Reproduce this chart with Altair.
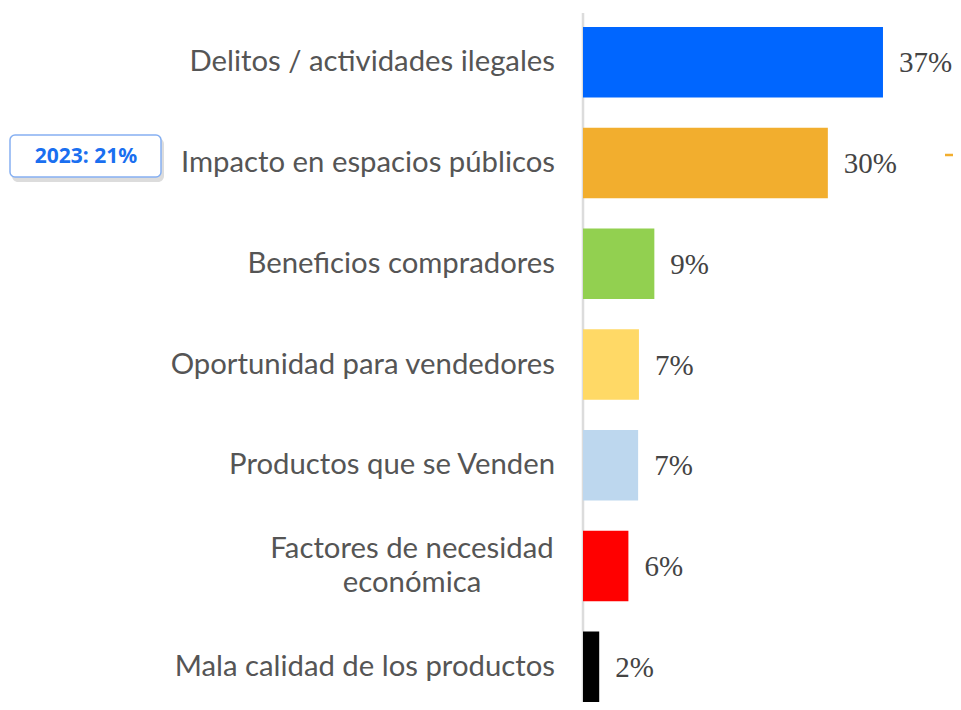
import altair as alt
import pandas as pd

categories = [
    "Delitos / actividades ilegales",
    "Impacto en espacios públicos",
    "Beneficios compradores",
    "Oportunidad para vendedores",
    "Productos que se Venden",
    "Factores de necesidad económica",
    "Mala calidad de los productos",
]
display_labels = [
    "Delitos / actividades ilegales",
    "Impacto en espacios públicos",
    "Beneficios compradores",
    "Oportunidad para vendedores",
    "Productos que se Venden",
    "Factores de necesidad\neconómica",
    "Mala calidad de los productos",
]
# bar lengths (labels are rounded)
values = [37.0, 30.2, 8.8, 6.9, 6.8, 5.6, 2.0]
value_labels = ["37%", "30%", "9%", "7%", "7%", "6%", "2%"]
bar_colors = ["#0066FF", "#F2AE2E", "#92D050", "#FFD966", "#BDD7EE", "#FF0000", "#000000"]
multiline = [False, False, False, False, False, True, False]

badge_text = ["2023: 21%"]

df = pd.DataFrame({
    "cat": categories,
    "disp": display_labels,
    "val": values,
    "vlab": value_labels,
    "multi": multiline,
})

W = 362
H = 675
XMAX = 44.65

yenc = alt.Y("cat:N", sort=categories, axis=None,
             scale=alt.Scale(domain=categories, paddingInner=0.3, paddingOuter=0))
xscale = alt.Scale(domain=[0, XMAX], nice=False, zero=True)

base = alt.Chart(df)

axis_line = alt.Chart(pd.DataFrame({"a": [0]})).mark_rule(color="#dcdcdc", strokeWidth=2.5).encode(
    x=alt.value(0), y=alt.value(-14), y2=alt.value(H + 20)
)

bars = base.mark_bar().encode(
    x=alt.X("val:Q", scale=xscale, axis=None),
    y=yenc,
    color=alt.Color("cat:N", scale=alt.Scale(domain=categories, range=bar_colors), legend=None),
)

vals = base.mark_text(align="left", baseline="middle", dx=16, dy=1, font="Liberation Serif",
                      fontSize=29, color="#444444").encode(
    x=alt.X("val:Q", scale=xscale),
    y=yenc,
    text="vlab:N",
)

labels = base.transform_filter("!datum.multi").mark_text(
    align="right", baseline="middle", font="Lato", fontSize=29.3, color="#555555"
).encode(x=alt.value(-28), y=yenc, text="disp:N")

labels_multi = base.transform_filter("datum.multi").mark_text(
    align="center", baseline="middle", font="Lato", fontSize=29.3, color="#555555",
    lineBreak="\n", lineHeight=34, dy=-17
).encode(x=alt.value(-171), y=yenc, text="disp:N")

bdf = pd.DataFrame({"t": badge_text})
badge_shadow = alt.Chart(bdf).mark_rect(cornerRadius=6, fill="#9a9a9a", opacity=0.35).encode(
    x=alt.value(-571), x2=alt.value(-419), y=alt.value(111), y2=alt.value(155)
)
badge = alt.Chart(bdf).mark_rect(cornerRadius=5, fill="white", stroke="#86b0f2", strokeWidth=1.5).encode(
    x=alt.value(-573), x2=alt.value(-422), y=alt.value(108), y2=alt.value(150)
)
badge_label = alt.Chart(bdf).mark_text(font="Noto Sans", fontWeight="bold", fontSize=21,
                                       color="#1a6ff0", align="center", baseline="middle").encode(
    x=alt.value(-497), y=alt.value(130), text="t:N"
)

dash = alt.Chart(bdf).mark_rule(color="#F2AE2E", strokeWidth=2.5).encode(
    x=alt.value(362), x2=alt.value(380), y=alt.value(128)
)

chart = alt.layer(
    axis_line, bars, vals, labels, labels_multi, badge_shadow, badge, badge_label, dash
).properties(
    width=W, height=H,
    autosize=alt.AutoSizeParams(type="none"),
    padding={"left": 575, "top": 19, "right": 8, "bottom": 0},
).configure_view(stroke=None)

chart.save("out.html", embed_options={"renderer": "svg", "actions": False})
